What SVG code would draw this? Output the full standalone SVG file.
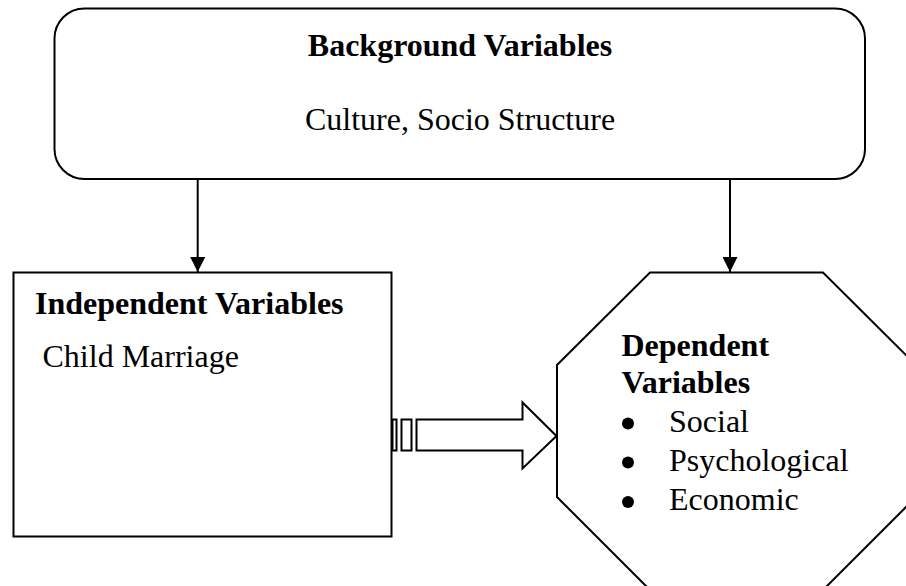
<svg xmlns="http://www.w3.org/2000/svg" width="906" height="586" viewBox="0 0 906 586">
<style>
.shape{fill:#fff;stroke:#000;stroke-width:2}
.line{fill:none;stroke:#000;stroke-width:2}
.t{font-family:"Liberation Serif","Times New Roman",serif;font-size:32px;fill:#000}
.b{font-weight:bold}
</style>
<defs>
<marker id="ah" markerWidth="15" markerHeight="15" refX="15" refY="7.5" orient="auto" markerUnits="userSpaceOnUse">
<path d="M0,0 L15,7.5 L0,15 Z" fill="#000"/>
</marker>
</defs>
<rect width="906" height="586" fill="#fff"/>
<g id="background">
<rect class="shape" x="54.5" y="8.5" width="810.5" height="170.5" rx="30" ry="30"/>
<text class="t b" x="460" y="56" text-anchor="middle">Background Variables</text>
<text class="t" x="460" y="130" text-anchor="middle">Culture, Socio Structure</text>
</g>
<g id="independent">
<rect class="shape" x="13.5" y="272.5" width="378" height="264"/>
<text class="t b" x="35" y="314">Independent Variables</text>
<text class="t" x="42.5" y="367">Child Marriage</text>
</g>
<g id="dependent">
<polygon class="shape" points="650,272.5 823,272.5 916,365 916,497 823,590 650,590 557,497 557,365"/>
<text class="t b" x="621.5" y="356">Dependent</text>
<text class="t b" x="621.5" y="393">Variables</text>
<circle cx="628" cy="423.5" r="6" fill="#000"/>
<circle cx="628" cy="462.5" r="6" fill="#000"/>
<circle cx="628" cy="502" r="6" fill="#000"/>
<text class="t" x="669" y="432">Social</text>
<text class="t" x="669" y="471">Psychological</text>
<text class="t" x="669" y="510">Economic</text>
</g>
<g id="connectors">
<line class="line" x1="197.7" y1="179" x2="197.7" y2="272" marker-end="url(#ah)"/>
<line class="line" x1="730" y1="179" x2="730" y2="272" marker-end="url(#ah)"/>
<g id="block-arrow">
<rect class="shape" x="392.5" y="419.5" width="4" height="31"/>
<rect class="shape" x="401.5" y="419.5" width="10" height="31"/>
<polygon class="shape" points="416.5,419.5 522.5,419.5 522.5,402.5 556.5,436 522.5,468.5 522.5,450.5 416.5,450.5"/>
</g>
</g>
</svg>
